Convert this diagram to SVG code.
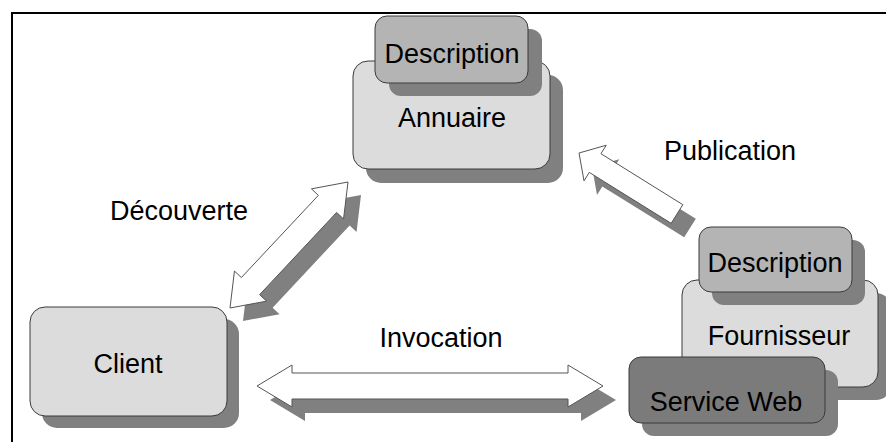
<svg xmlns="http://www.w3.org/2000/svg" width="886" height="442" viewBox="0 0 886 442">
<style>
.shadow{fill:#808080;stroke:none}
.light{fill:#dcdcdc;stroke:#3a3a3a;stroke-width:1}
.desc{fill:#b4b4b4;stroke:#3a3a3a;stroke-width:1}
.ws{fill:#7b7b7b;stroke:#3a3a3a;stroke-width:1}
.arrow{fill:#ffffff;stroke:#555;stroke-width:1;stroke-linejoin:miter}
text{font-family:"Liberation Sans",Arial,sans-serif;font-size:27px;fill:#000}
.c{text-anchor:middle}
</style>
<rect width="886" height="442" fill="#fff"/>
<path d="M12,442 V13 H886" fill="none" stroke="#000" stroke-width="2"/>
<g id="connectors">
  <g id="decouverte">
    <polygon class="shadow" transform="translate(13,13)" points="348,182 343.55,218.94 336.62,212.45 259.64,294.65 266.57,301.14 230,308 234.45,271.06 241.39,277.55 318.37,195.35 311.43,188.86"/>
    <polygon class="arrow" points="348,182 343.55,218.94 336.62,212.45 259.64,294.65 266.57,301.14 230,308 234.45,271.06 241.39,277.55 318.37,195.35 311.43,188.86"/>
  </g>
  <g id="invocation">
    <polygon class="shadow" transform="translate(13,14)" points="603,386 568,407 568,399 292,399 292,407 257,386 292,365 292,373 568,373 568,365"/>
    <polygon class="arrow" points="603,386 568,407 568,399 292,399 292,407 257,386 292,365 292,373 568,373 568,365"/>
  </g>
  <g id="publication">
    <polygon class="shadow" transform="translate(13,14)" points="579,153 606.24,145.22 600.95,153.71 682.82,204.66 671.18,223.34 589.31,172.39 584.02,180.88"/>
    <polygon class="arrow" points="579,153 606.24,145.22 600.95,153.71 682.82,204.66 671.18,223.34 589.31,172.39 584.02,180.88"/>
  </g>
  <text x="179" y="220" class="c">Découverte</text>
  <text x="730" y="160" class="c">Publication</text>
  <text x="441" y="347" class="c">Invocation</text>
</g>
<g id="annuaire">
  <rect class="shadow" x="366" y="75" width="197" height="108" rx="15"/>
  <rect class="light" x="353" y="61" width="197" height="108" rx="15"/>
  <text x="452" y="127" class="c">Annuaire</text>
</g>
<g id="annuaire-description">
  <rect class="shadow" x="389" y="29" width="153" height="67" rx="12"/>
  <rect class="desc" x="375" y="16" width="153" height="67" rx="12"/>
  <text x="452" y="63" class="c">Description</text>
</g>
<g id="client">
  <rect class="shadow" x="42" y="319" width="197" height="109" rx="15"/>
  <rect class="light" x="30" y="307" width="197" height="109" rx="15"/>
  <text x="128" y="373" class="c">Client</text>
</g>
<g id="fournisseur">
  <rect class="shadow" x="695" y="293" width="196" height="107" rx="15"/>
  <rect class="light" x="682" y="280" width="196" height="107" rx="15"/>
  <text x="779" y="345" class="c">Fournisseur</text>
</g>
<g id="fournisseur-description">
  <rect class="shadow" x="712" y="240" width="153" height="65" rx="12"/>
  <rect class="desc" x="699" y="227" width="153" height="65" rx="12"/>
  <text x="775" y="272" class="c">Description</text>
</g>
<g id="service-web">
  <rect class="shadow" x="642" y="370" width="196" height="66" rx="12"/>
  <rect class="ws" x="629" y="357" width="196" height="66" rx="12"/>
  <text x="726" y="411" class="c">Service Web</text>
</g>
</svg>
